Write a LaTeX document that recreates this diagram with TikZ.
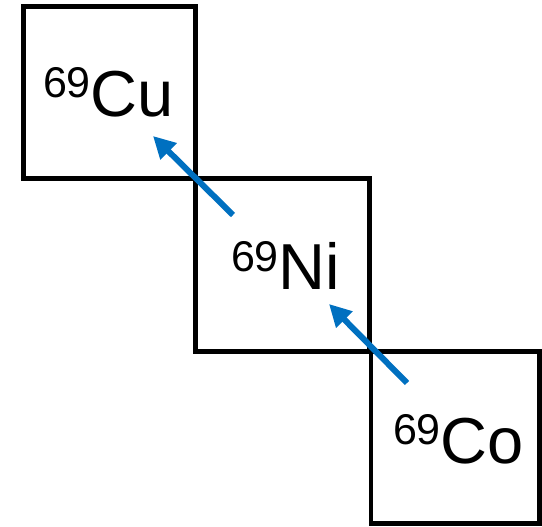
\documentclass[tikz,border=0pt]{standalone}
\usepackage{fontspec}
\setmainfont{Liberation Sans}
\usetikzlibrary{arrows.meta}
\definecolor{decayblue}{HTML}{0070C0}
\newcommand{\nuclide}[2]{{\fontsize{43}{43}\selectfont\raisebox{19pt}{#1}}\fontsize{65}{65}\selectfont #2}
\tikzset{
  cell/.style={draw=black, line width=4.5pt, minimum width=172pt, minimum height=172pt, inner sep=0pt, outer sep=0pt},
  label/.style={anchor=base west, inner sep=0pt, outer sep=0pt},
  decay/.style={draw=decayblue, line width=6pt, -{Triangle[length=22pt,width=22pt]}}
}
\begin{document}
\begin{tikzpicture}[x=1pt, y=-1pt]
\useasboundingbox (0,0) rectangle (542,527);
% three chart cells along the isobar
\node[cell] (cu) at (109.5,92.5) {};
\node[cell, minimum width=174pt, minimum height=173pt] (ni) at (282.5,265) {};
\node[cell, minimum width=168.5pt] (co) at (455.25,437.5) {};
% nuclide labels
\node[label] (cut) at (43,117) {\nuclide{69}{Cu}};
\node[label] (nit) at (231,290) {\nuclide{69}{Ni}};
\node[label] (cot) at (393,463) {\nuclide{69}{Co}};
% beta-decay arrows
\coordinate (a1s) at (233,215);
\coordinate (a1e) at (153,136);
\coordinate (a2s) at (407,383);
\coordinate (a2e) at (329,304);
\draw[decay] (a1s) -- (a1e);
\draw[decay] (a2s) -- (a2e);
\end{tikzpicture}
\end{document}
